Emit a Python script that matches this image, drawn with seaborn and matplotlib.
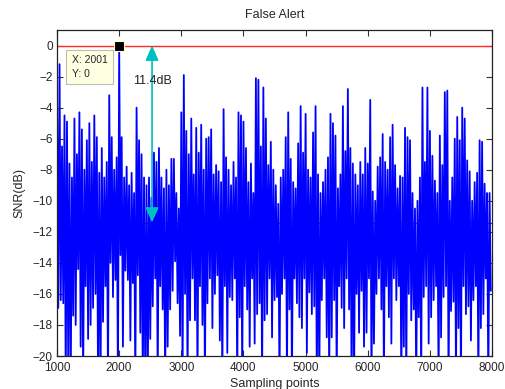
import numpy as np
import pandas as pd
import seaborn as sns
import matplotlib
matplotlib.use("Agg")
import matplotlib.pyplot as plt

# upper spikes of the SNR trace (dB), one every 40 samples starting at 1001
peak_db = [
    -3.5, -1.2, -6.5, -4.5, -4.9, -7.6, -8.5, -4.7, -7.0, -4.3,
    -5.4, -8.0, -6.1, -5.0, -7.5, -4.5, -5.9, -8.2, -6.6, -8.5,
    -7.5, -3.2, -5.9, -8.0, -7.2, 0.0, -5.9, -8.5, -7.8, -9.0,
    -8.2, -9.5, -4.0, -6.1, -7.0, -8.5, -9.0, -8.5, -9.8, -6.9,
    -7.5, -6.6, -8.5, -9.2, -8.0, -9.0, -7.3, -7.3, -9.5, -10.5,
    -4.3, -1.9, -5.5, -7.0, -4.7, -8.3, -5.3, -6.9, -5.1, -8.0,
    -6.0, -5.9, -5.4, -8.3, -7.7, -8.1, -8.8, -4.1, -7.2, -8.0,
    -9.0, -7.5, -8.5, -4.3, -4.5, -4.9, -6.6, -8.8, -7.6, -9.5,
    -2.1, -2.2, -6.5, -2.7, -4.7, -7.7, -6.2, -8.0, -9.0, -10.2,
    -8.5, -8.0, -5.9, -4.3, -7.3, -8.8, -9.2, -6.3, -3.9, -6.9,
    -4.4, -8.0, -8.5, -5.6, -3.9, -8.3, -9.5, -8.8, -8.0, -7.2,
    -4.4, -5.0, -5.8, -9.2, -8.3, -3.9, -6.8, -2.8, -6.6, -7.6,
    -8.3, -9.0, -7.5, -8.3, -6.6, -7.6, -3.5, -9.4, -10.0, -7.8,
    -7.2, -5.7, -7.5, -8.0, -5.9, -5.1, -7.7, -9.2, -8.4, -8.5,
    -5.3, -5.9, -6.1, -9.5, -10.5, -10.0, -8.5, -2.7, -7.5, -2.7,
    -5.5, -7.1, -8.7, -9.5, -5.8, -7.7, -3.0, -2.9, -10.0, -8.5,
    -6.0, -4.6, -6.1, -4.0, -4.7, -7.4, -8.1, -10.0, -8.8, -8.2,
    -6.1, -6.2, -8.9, -9.5, -9.5,
]

# lower spikes (dB), each 20 samples after the matching peak
trough_db = [
    -16.9, -16.4, -16.6, -22, -20.5, -22, -17.4, -18.0, -14.4, -19.4,
    -22, -15.5, -18.9, -18.0, -16.9, -16.0, -22, -22, -17.8, -15.5,
    -22, -14.0, -16.2, -15.1, -22, -13.5, -19.4, -14.5, -15.1, -19.0,
    -15.3, -22, -14.8, -18.5, -22, -22, -22, -18.9, -16.8, -15.0,
    -22, -15.5, -17.0, -22, -19.4, -17.0, -15.8, -13.9, -16.6, -18.7,
    -22, -16.0, -22, -17.7, -15.0, -17.7, -22, -15.5, -18.0, -22,
    -16.6, -15.0, -18.2, -16.0, -14.8, -19.0, -22, -15.5, -19.8, -16.2,
    -16.4, -15.0, -22, -17.5, -22, -15.5, -17.0, -19.4, -15.0, -19.2,
    -17.3, -16.6, -22, -17.7, -17.3, -15.0, -18.8, -16.4, -16.2, -22,
    -16.0, -15.0, -22, -17.0, -22, -15.0, -16.6, -17.5, -18.2, -15.0,
    -19.8, -15.9, -17.3, -16.8, -22, -22, -16.4, -15.0, -18.8, -22,
    -18.8, -16.4, -22, -15.5, -16.9, -18.2, -15.0, -17.0, -22, -22,
    -16.0, -18.5, -15.8, -19.4, -18.5, -15.0, -22, -19.2, -16.0, -15.0,
    -17.0, -22, -15.5, -17.5, -19.2, -15.0, -16.4, -15.5, -22, -19.4,
    -22, -16.0, -17.7, -17.0, -22, -17.5, -22, -16.2, -15.5, -19.2,
    -17.5, -16.4, -15.5, -22, -18.8, -16.2, -15.5, -22, -17.1, -16.5,
    -22, -18.2, -22, -15.5, -17.3, -16.8, -19.0, -16.4, -15.5, -22,
    -18.2, -17.3, -15.0, -22, -15.8,
]

threshold_db = -11.4
tip_x, tip_y = 2001, 0
arrow_x = 2530
x_ticks = [1000, 2000, 3000, 4000, 5000, 6000, 7000, 8000]
y_ticks = [0, -2, -4, -6, -8, -10, -12, -14, -16, -18, -20]

samples = np.arange(1001, 8001, 20)
snr_db = np.column_stack([peak_db, trough_db]).ravel()
df = pd.DataFrame({"sample": samples, "snr": snr_db})

sns.set_style("ticks")
plt.rcParams["font.family"] = ["Liberation Sans", "DejaVu Sans"]
plt.rcParams["xtick.direction"] = "in"
plt.rcParams["ytick.direction"] = "in"
plt.rcParams["xtick.top"] = True
plt.rcParams["ytick.right"] = True

fig = plt.figure(figsize=(5.06, 3.89), dpi=100)
ax = fig.add_axes([0.1126, 0.0848, 0.8597, 0.838])

ax.axhline(0, color="#ff2a2a", lw=1, zorder=1)
ax.axhline(threshold_db, color="#c00000", lw=0.9, zorder=1)
sns.lineplot(data=df, x="sample", y="snr", color="#0000ff", lw=1.3,
             estimator=None, ax=ax, zorder=2)

# 11.4 dB gap between threshold and the false peak
ax.annotate("", xy=(arrow_x, 0), xytext=(arrow_x, threshold_db),
            arrowprops=dict(arrowstyle="<|-|>,head_length=0.9,head_width=0.4",
                            color="#00bfbf", lw=1.2, shrinkA=0, shrinkB=0),
            zorder=4)
ax.text(arrow_x, -2.3, "11.4dB", ha="center", va="center", fontsize=9,
        color="#222222", zorder=5)

# data tip
ax.plot(tip_x, tip_y, "s", color="black", ms=6.5, mec="#ffffc8", mew=0.8,
        zorder=6, clip_on=False)
ax.text(1235, -0.6, "X: 2001\nY: 0", ha="left", va="top", fontsize=7.5,
        linespacing=1.5, zorder=6,
        bbox=dict(boxstyle="square,pad=0.5", fc="#ffffe1", ec="#bdbdb0", lw=0.8))

ax.set_xlim(1000, 8000)
ax.set_ylim(-20, 1)
ax.set_xticks(x_ticks)
ax.set_yticks(y_ticks)
ax.tick_params(labelsize=8.5, length=4, width=0.8, color="#333333", pad=3)
ax.tick_params(axis="x", pad=4)
for s in ax.spines.values():
    s.set_color("#222222")
    s.set_linewidth(0.9)

ax.set_title("False Alert", fontsize=9, pad=9)
ax.set_xlabel("Sampling points", fontsize=9, labelpad=3)
ax.set_ylabel("SNR(dB)", fontsize=9, labelpad=5)

fig.savefig("out.png", dpi=100, facecolor="white")
